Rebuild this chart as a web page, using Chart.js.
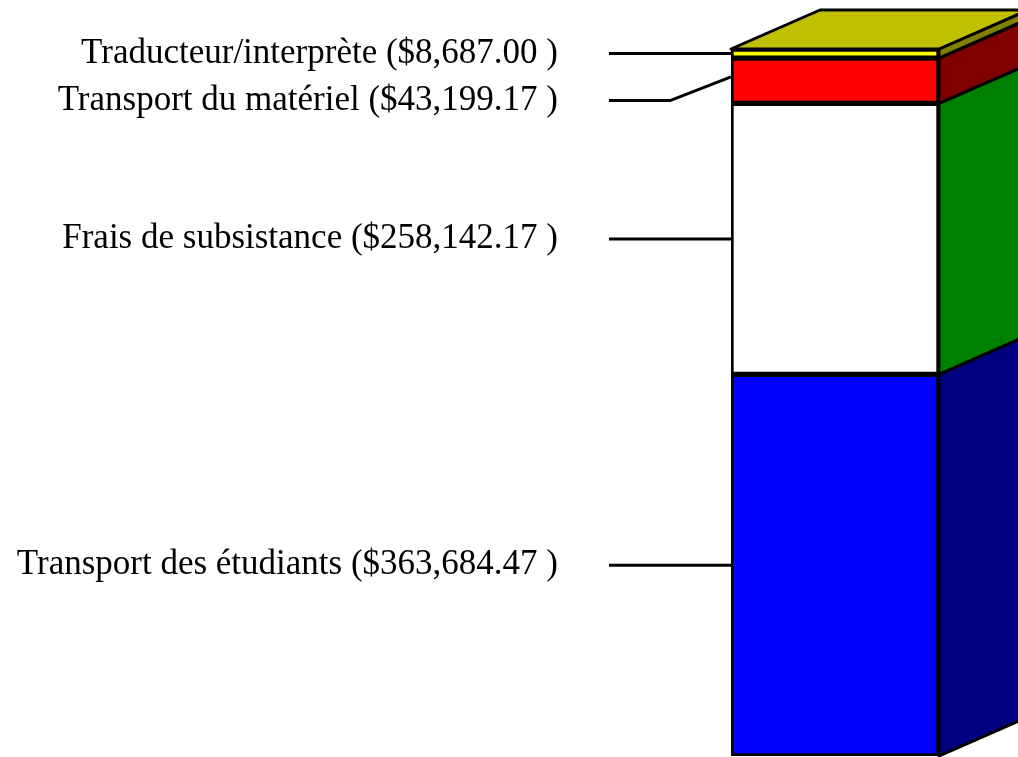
<!DOCTYPE html>
<html>
<head>
<meta charset="utf-8">
<script src="https://cdn.jsdelivr.net/npm/chart.js@4/dist/chart.umd.min.js"></script>
<style>
  html, body { margin: 0; padding: 0; background: #fff; }
  #wrap { width: 1018px; height: 757px; }
</style>
</head>
<body>
<div id="wrap"><canvas id="cost-chart"></canvas></div>
<script>
// bottom to top
const categories = ['Transport des étudiants', 'Frais de subsistance', 'Transport du matériel', 'Traducteur/interprète'];
const amounts = [363684.47, 258142.17, 43199.17, 8687.00];
const frontColors = ['#0000FF', '#FFFFFF', '#FF0000', '#FFFF00'];
const sideColors = ['#000080', '#008000', '#800000', '#808000'];
const topColor = '#C0C000';

const total = amounts.reduce((a, b) => a + b, 0);
const depth = { dx: 89, dy: -39 };

function money(v) {
  return '($' + v.toLocaleString('en-US', { minimumFractionDigits: 2, maximumFractionDigits: 2 }) + ' )';
}

const box3d = {
  id: 'box3d',
  afterDatasetsDraw(chart) {
    const ctx = chart.ctx;
    ctx.save();
    ctx.lineWidth = 3;
    ctx.strokeStyle = '#000';
    ctx.lineJoin = 'round';
    const bars = chart.data.datasets.map((d, i) => chart.getDatasetMeta(i).data[0]);
    bars.forEach((bar, i) => {
      const right = bar.x + bar.width / 2;
      const top = bar.y, bottom = bar.base;
      ctx.beginPath();
      ctx.moveTo(right, bottom);
      ctx.lineTo(right, top);
      ctx.lineTo(right + depth.dx, top + depth.dy);
      ctx.lineTo(right + depth.dx, bottom + depth.dy);
      ctx.closePath();
      ctx.fillStyle = sideColors[i];
      ctx.fill();
      ctx.stroke();
    });
    const last = bars[bars.length - 1];
    const l = last.x - last.width / 2, r = last.x + last.width / 2;
    ctx.beginPath();
    ctx.moveTo(l, last.y);
    ctx.lineTo(l + depth.dx, last.y + depth.dy);
    ctx.lineTo(r + depth.dx, last.y + depth.dy);
    ctx.lineTo(r, last.y);
    ctx.closePath();
    ctx.fillStyle = topColor;
    ctx.fill();
    ctx.stroke();

    // labels with leader lines, from the top down
    ctx.font = '35px "Liberation Serif", "Times New Roman", serif';
    ctx.fillStyle = '#000';
    ctx.textAlign = 'right';
    ctx.textBaseline = 'middle';
    ctx.lineWidth = 3;
    let prev = -Infinity;
    for (let i = bars.length - 1; i >= 0; i--) {
      const bar = bars[i];
      const mid = (bar.y + bar.base) / 2;
      const ly = Math.max(mid, prev + 47);
      prev = ly;
      const left = bar.x - bar.width / 2;
      ctx.beginPath();
      ctx.moveTo(609, ly);
      if (Math.abs(ly - mid) > 6) {
        ctx.lineTo(670, ly);
        ctx.lineTo(left, mid - 4);
      } else {
        ctx.lineTo(left, ly);
      }
      ctx.stroke();
      ctx.fillText(chart.data.datasets[i].label + ' ' + money(amounts[i]), 558, ly);
    }
    ctx.restore();
  }
};

new Chart(document.getElementById('cost-chart'), {
  type: 'bar',
  data: {
    labels: ['Coûts'],
    datasets: categories.map((c, i) => ({
      label: c,
      data: [amounts[i]],
      backgroundColor: frontColors[i],
      borderColor: '#000',
      borderWidth: 3,
      borderSkipped: false,
      barPercentage: 1,
      categoryPercentage: 1
    }))
  },
  options: {
    responsive: true,
    maintainAspectRatio: false,
    animation: false,
    layout: { padding: { left: 731, right: 79, top: 49, bottom: 1 } },
    plugins: { legend: { display: false }, tooltip: { enabled: false } },
    scales: {
      x: { stacked: true, display: false },
      y: { stacked: true, display: false, min: 0, max: total }
    }
  },
  plugins: [box3d]
});
</script>
</body>
</html>
